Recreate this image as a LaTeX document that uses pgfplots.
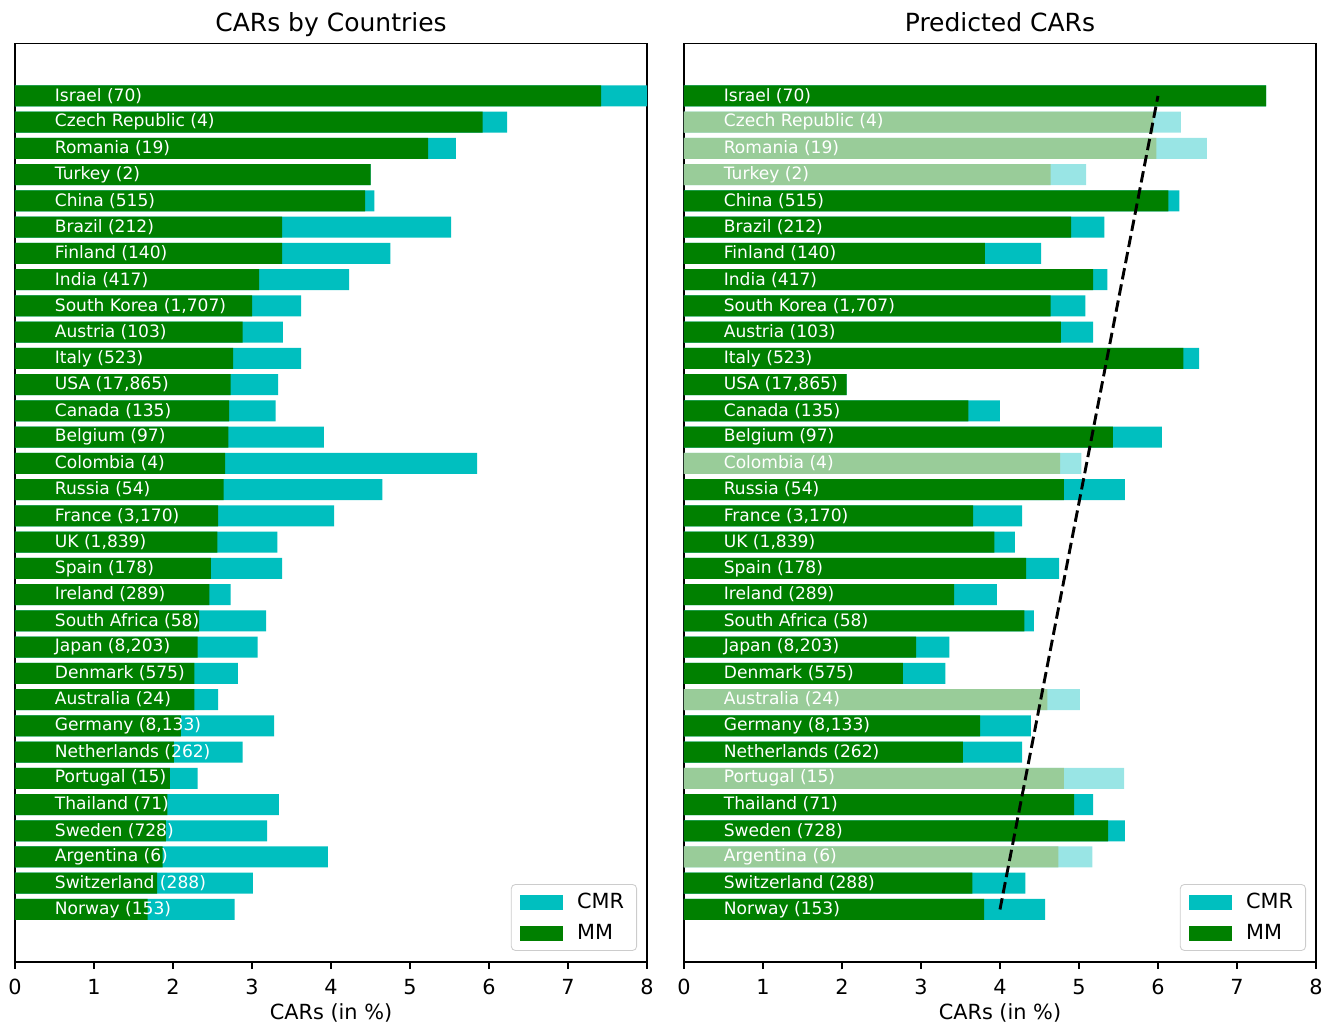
\documentclass[border=0pt]{standalone}
\usepackage{pgfplots}
\usepackage{pgfplotstable}
\usepackage{fontspec}
\setmainfont{DejaVu Sans}
\pgfplotsset{compat=1.18}
\definecolor{mmgreen}{RGB}{0,128,0}
\definecolor{cmrcyan}{RGB}{0,191,191}
\definecolor{mmlight}{RGB}{153,204,153}
\definecolor{cmrlight}{RGB}{153,229,229}

\pgfplotstableread{
y mm cmr
31 7.42 8.00
30 5.92 6.23
29 5.23 5.58
28 4.50 4.50
27 4.43 4.55
26 3.38 5.52
25 3.38 4.75
24 3.09 4.23
23 3.00 3.62
22 2.88 3.39
21 2.76 3.62
20 2.73 3.33
19 2.71 3.30
18 2.70 3.91
17 2.66 5.85
16 2.64 4.65
15 2.57 4.04
14 2.56 3.32
13 2.48 3.38
12 2.46 2.73
11 2.33 3.18
10 2.31 3.07
9 2.27 2.82
8 2.27 2.57
7 2.10 3.28
6 2.01 2.88
5 1.96 2.31
4 1.93 3.34
3 1.91 3.19
2 1.87 3.96
1 1.80 3.01
0 1.68 2.78
}\lefttab

\pgfplotstableread{
y mm cmr
31 7.37 7.37
27 6.13 6.27
26 4.90 5.32
25 3.81 4.52
24 5.18 5.36
23 4.64 5.08
22 4.77 5.18
21 6.32 6.52
20 2.06 2.06
19 3.60 4.00
18 5.43 6.05
16 4.81 5.58
15 3.66 4.28
14 3.93 4.19
13 4.33 4.75
12 3.42 3.96
11 4.31 4.43
10 2.94 3.36
9 2.77 3.31
7 3.75 4.39
6 3.53 4.28
4 4.94 5.18
3 5.37 5.58
1 3.65 4.32
0 3.80 4.57
}\rightdark

\pgfplotstableread{
y mm cmr
30 5.94 6.29
29 5.98 6.62
28 4.64 5.09
17 4.76 5.03
8 4.60 5.01
5 4.81 5.57
2 4.74 5.17
}\rightlight

\pgfplotstableread[col sep=semicolon]{
y;label
31;Israel (70)
30;Czech Republic (4)
29;Romania (19)
28;Turkey (2)
27;China (515)
26;Brazil (212)
25;Finland (140)
24;India (417)
23;South Korea (1,707)
22;Austria (103)
21;Italy (523)
20;USA (17,865)
19;Canada (135)
18;Belgium (97)
17;Colombia (4)
16;Russia (54)
15;France (3,170)
14;UK (1,839)
13;Spain (178)
12;Ireland (289)
11;South Africa (58)
10;Japan (8,203)
9;Denmark (575)
8;Australia (24)
7;Germany (8,133)
6;Netherlands (262)
5;Portugal (15)
4;Thailand (71)
3;Sweden (728)
2;Argentina (6)
1;Switzerland (288)
0;Norway (153)
}\labeltab

\pgfplotsset{
  panel/.style={
    scale only axis,
    width=303.4pt, height=440.9pt,
    xmin=0, xmax=8, ymin=-2, ymax=33,
    xtick={0,1,2,3,4,5,6,7,8},
    ytick=\empty,
    tick align=outside,
    xtick pos=left,
    major tick length=3.2pt,
    every tick/.style={black, line width=0.8pt},
    axis line style={line width=0.8pt},
    /pgf/number format/assume math mode=true,
    ticklabel style={font=\fontsize{10}{12}\selectfont},
    xticklabel style={anchor=base, yshift=-12.4pt},
    xlabel={CARs (in \%)},
    xlabel style={font=\fontsize{10}{12}\selectfont, at={(axis description cs:0.5,0)}, anchor=base, yshift=-27.4pt},
    title style={font=\fontsize{12}{14}\selectfont, at={(axis description cs:0.5,1)}, anchor=base, yshift=-0.3pt},
    legend cell align=left,
    legend image code/.code={\fill[##1, sharp corners] (0pt,-3.6pt) rectangle (20.6pt,3.6pt);},
    legend style={at={(axis description cs:1,0)}, anchor=south east, xshift=-4.8pt, yshift=5.3pt,
      font=\fontsize{10}{12}\selectfont, draw=black!20, rounded corners=2pt,
      inner xsep=4pt, inner ysep=2pt, row sep=2pt,
      /tikz/every odd column/.append style={column sep=5pt}},
  },
  barplot/.style={xbar, bar width=0.8, bar shift=0pt, draw=none, fill=#1},
  labelplot/.style={only marks, mark=none, forget plot, nodes near coords, point meta=explicit symbolic,
    nodes near coords style={anchor=west, inner sep=0pt, text=white, font=\fontsize{8.2}{10}\selectfont}},
}

\begin{document}
\begin{tikzpicture}
\path[use as bounding box] (-7.2pt,-30.24pt) rectangle (631.7pt,461.76pt);
\begin{axis}[panel, at={(0pt,0pt)}, anchor=south west, title={CARs by Countries}]
\addplot[barplot=cmrcyan] table[x=cmr, y=y] {\lefttab};
\addplot[barplot=mmgreen] table[x=mm, y=y] {\lefttab};
\addplot[labelplot] table[x expr=0.5, y=y, meta=label] {\labeltab};
\legend{CMR, MM}
\end{axis}
\begin{axis}[panel, at={(321.1pt,0pt)}, anchor=south west, title={Predicted CARs}]
\addplot[barplot=cmrcyan] table[x=cmr, y=y] {\rightdark};
\addplot[barplot=cmrlight, forget plot] table[x=cmr, y=y] {\rightlight};
\addplot[barplot=mmgreen] table[x=mm, y=y] {\rightdark};
\addplot[barplot=mmlight, forget plot] table[x=mm, y=y] {\rightlight};
\addplot[labelplot] table[x expr=0.5, y=y, meta=label] {\labeltab};
\addplot[black, line width=1.4pt, dash pattern=on 5.5pt off 2.4pt, forget plot] coordinates {(4,0) (6,31)};
\legend{CMR, MM}
\end{axis}
\end{tikzpicture}
\end{document}
